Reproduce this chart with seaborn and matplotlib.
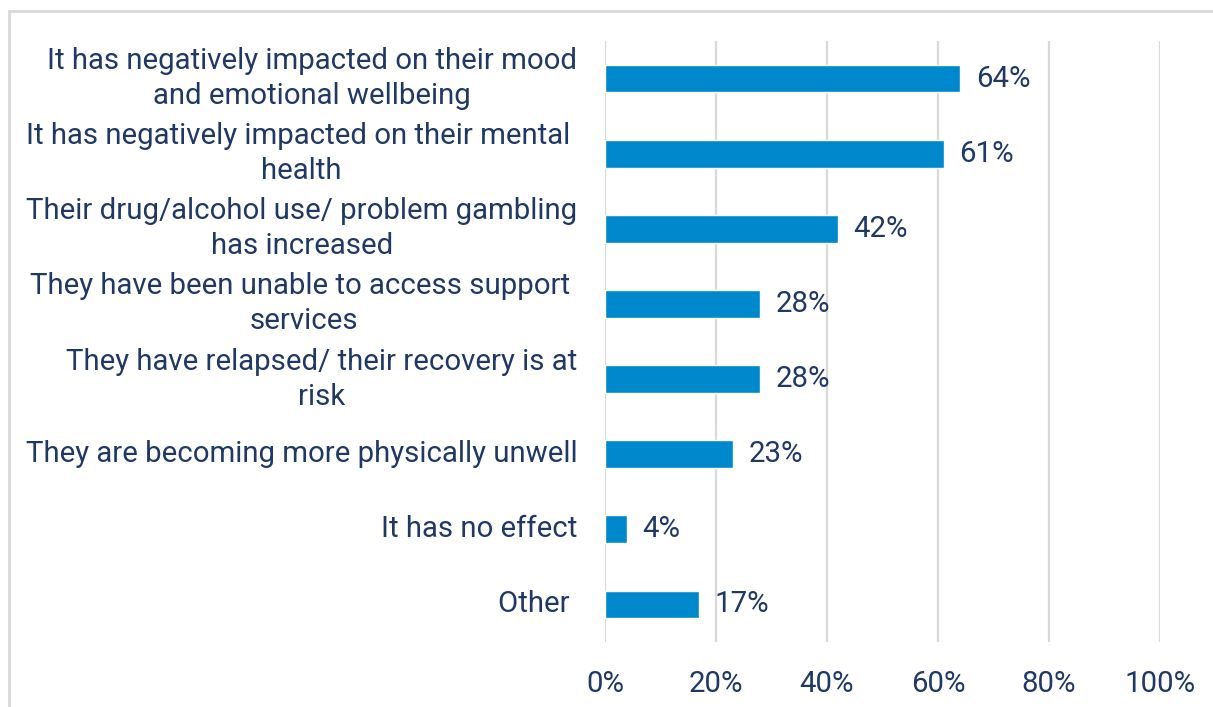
import matplotlib
matplotlib.use("Agg")
import matplotlib.pyplot as plt
import seaborn as sns
import pandas as pd
from matplotlib.patches import Rectangle

categories = [
    "It has negatively impacted on their mood\nand emotional wellbeing",
    "It has negatively impacted on their mental \nhealth",
    "Their drug/alcohol use/ problem gambling\nhas increased",
    "They have been unable to access support \nservices",
    "They have relapsed/ their recovery is at\nrisk",
    "They are becoming more physically unwell",
    "It has no effect",
    "Other ",
]
values = [64, 61, 42, 28, 28, 23, 4, 17]
tick_vals = [0, 20, 40, 60, 80, 100]
tick_labels = ["0%", "20%", "40%", "60%", "80%", "100%"]

BAR = "#0088CC"
TXT = "#1F3864"
GRID = "#D9D9D9"
FS = 21.2

sns.set_theme(style="white")
plt.rcParams["font.family"] = ["Roboto", "DejaVu Sans"]

df = pd.DataFrame({"cat": categories, "val": values})

fig = plt.figure(figsize=(12.13, 7.07), dpi=100)
ax = fig.add_axes([605 / 1213, 1 - 642 / 707, (1160 - 605) / 1213, (642 - 41) / 707])

sns.barplot(data=df, y="cat", x="val", color=BAR, orient="h", width=0.37,
            saturation=1, ax=ax, zorder=3)

ax.set_xlim(0, 100)
ax.set_xticks(tick_vals)
ax.set_xticklabels(tick_labels)
ax.set_xlabel("")
ax.set_ylabel("")
for s in ax.spines.values():
    s.set_visible(False)
ax.grid(axis="x", color=GRID, linewidth=1.6, zorder=0)
ax.grid(axis="y", visible=False)
ax.tick_params(axis="x", length=0, pad=20, labelsize=FS, labelcolor=TXT)
ax.tick_params(axis="y", length=0, pad=20, labelsize=FS, labelcolor=TXT)
for lbl in ax.get_yticklabels():
    lbl.set_multialignment("center")
    lbl.set_linespacing(1.32)
    lbl.set_verticalalignment("center")

for i, v in enumerate(values):
    ax.text(v + 2.8, i, f"{v}%", va="center", ha="left", fontsize=FS, color=TXT)

fig.patches.append(Rectangle((9 / 1213, -0.1), 1.2, 1 - 11 / 707 + 0.1,
                             transform=fig.transFigure, fill=False,
                             edgecolor=GRID, linewidth=2, zorder=0))

fig.savefig("out.png", dpi=100)
